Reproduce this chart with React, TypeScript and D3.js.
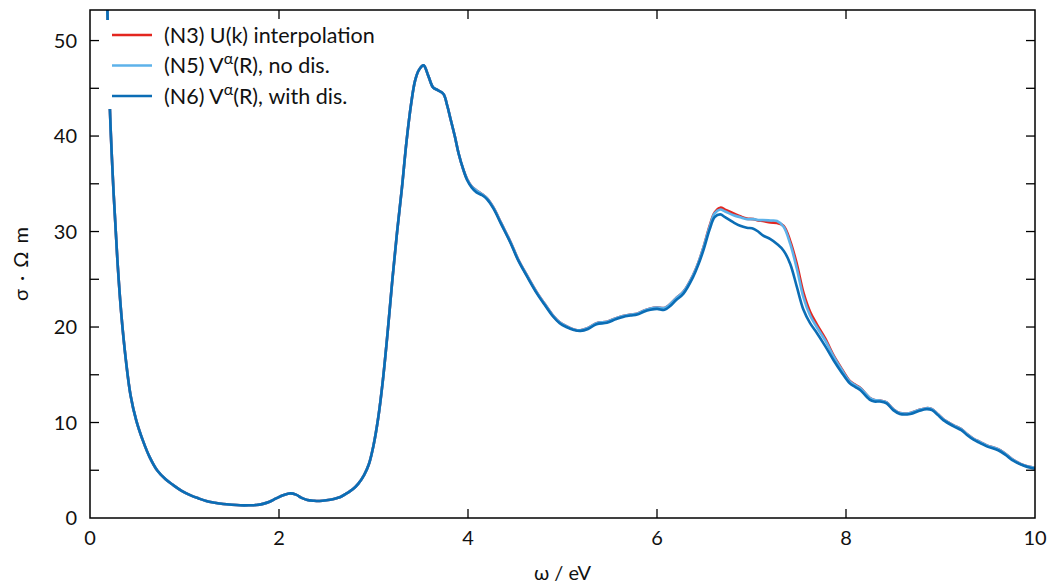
import React, { useRef, useEffect } from "react";
import * as d3 from "d3";

const omega = [
  0.17, 0.21, 0.25, 0.29, 0.33, 0.38, 0.43, 0.49, 0.56, 0.63, 0.71, 0.8, 0.88, 0.97, 1.06, 1.15, 1.23, 1.32, 1.41, 1.5,
  1.59, 1.68, 1.76, 1.83, 1.9, 1.97, 2.05, 2.12, 2.18, 2.24, 2.3, 2.37, 2.43, 2.5, 2.58, 2.65, 2.72, 2.78, 2.84, 2.9,
  2.95, 3.0, 3.05, 3.1, 3.15, 3.2, 3.25, 3.3, 3.35, 3.4, 3.44, 3.48, 3.53, 3.58, 3.63, 3.68, 3.74, 3.78, 3.81, 3.86,
  3.9, 3.95, 3.99, 4.04, 4.09, 4.15, 4.2, 4.27, 4.35, 4.45, 4.53, 4.63, 4.73, 4.82, 4.9, 4.97, 5.04, 5.12, 5.19, 5.27,
  5.36, 5.47, 5.56, 5.64, 5.72, 5.79, 5.86, 5.93, 6.0, 6.08, 6.14, 6.2, 6.28, 6.38, 6.44, 6.49, 6.56, 6.61, 6.67, 6.72,
  6.81, 6.88, 6.95, 7.02, 7.07, 7.12, 7.2, 7.27, 7.34, 7.41, 7.48, 7.55, 7.62, 7.69, 7.78, 7.87, 7.95, 8.04, 8.1, 8.15,
  8.25, 8.3, 8.36, 8.43, 8.5, 8.57, 8.68, 8.77, 8.85, 8.91, 8.97, 9.03, 9.14, 9.22, 9.28, 9.35, 9.42, 9.49, 9.61, 9.69,
  9.77, 9.89, 9.98, 10.0,
];

// (N6) V^α(R), with dis.
const n6 = [
  60, 43, 34, 27, 21.5, 16.5, 12.8, 10.2, 8.1, 6.4, 5.0, 4.05, 3.45, 2.85, 2.4, 2.05, 1.78, 1.6, 1.46, 1.38,
  1.33, 1.33, 1.36, 1.48, 1.7, 2.05, 2.4, 2.58, 2.45, 2.1, 1.88, 1.8, 1.78, 1.85, 2.0, 2.2, 2.6, 3.0, 3.6, 4.5,
  5.6, 7.6, 10.5, 14.5, 19.5, 25, 30, 34.5, 39.5, 43.5, 45.8, 46.9, 47.4, 46.3, 45.1, 44.8, 44.4, 43.2, 42.0, 40.0,
  38.2, 36.5, 35.4, 34.6, 34.1, 33.8, 33.4, 32.4, 30.8, 28.8, 27.0, 25.2, 23.5, 22.2, 21.1, 20.4, 20.0, 19.7, 19.6, 19.8,
  20.3, 20.45, 20.8, 21.06, 21.2, 21.3, 21.6, 21.8, 21.9, 21.8, 22.2, 22.8, 23.5, 25.2, 26.6, 28.0, 30.3, 31.5, 31.8, 31.5,
  30.95, 30.6, 30.4, 30.3, 30.0, 29.6, 29.2, 28.7, 28.0, 26.6, 24.2, 21.8, 20.4, 19.4, 18.0, 16.5, 15.3, 14.1, 13.7, 13.4,
  12.4, 12.2, 12.2, 12.0, 11.3, 10.9, 10.9, 11.2, 11.4, 11.3, 10.8, 10.25, 9.6, 9.2, 8.7, 8.2, 7.85, 7.5, 7.1, 6.6,
  6.0, 5.44, 5.2, 5.15,
];

// (N5) V^α(R), no dis.
const n5 = [
  60, 43, 34, 27, 21.5, 16.5, 12.8, 10.2, 8.1, 6.4, 5.0, 4.05, 3.45, 2.85, 2.4, 2.05, 1.78, 1.6, 1.46, 1.38,
  1.33, 1.33, 1.36, 1.48, 1.7, 2.05, 2.4, 2.58, 2.45, 2.1, 1.88, 1.8, 1.78, 1.85, 2.0, 2.2, 2.6, 3.0, 3.6, 4.5,
  5.6, 7.6, 10.5, 14.5, 19.5, 25, 30, 34.5, 39.5, 43.5, 45.8, 46.9, 47.4, 46.3, 45.1, 44.8, 44.4, 43.2, 42.0, 40.0,
  38.2, 36.5, 35.5, 34.7, 34.3, 33.9, 33.5, 32.5, 30.9, 28.9, 27.1, 25.3, 23.6, 22.3, 21.2, 20.5, 20.1, 19.75, 19.65, 19.9,
  20.4, 20.55, 20.9, 21.15, 21.3, 21.4, 21.7, 21.95, 22.05, 22.0, 22.4, 23.0, 23.7, 25.4, 26.8, 28.3, 30.6, 31.9, 32.3, 32.1,
  31.7, 31.5, 31.3, 31.3, 31.2, 31.2, 31.15, 31.1, 30.5, 28.7, 26.1, 23.1, 21.2, 20.0, 18.6, 16.9, 15.6, 14.3, 13.9, 13.6,
  12.6, 12.35, 12.3, 12.1, 11.4, 11.0, 11.0, 11.3, 11.5, 11.4, 10.9, 10.35, 9.7, 9.3, 8.8, 8.3, 7.95, 7.6, 7.2, 6.7,
  6.1, 5.5, 5.3, 5.25,
];

// (N3) U(k) interpolation
const n3 = [
  60, 43, 34, 27, 21.5, 16.5, 12.8, 10.2, 8.1, 6.4, 5.0, 4.05, 3.45, 2.85, 2.4, 2.05, 1.78, 1.6, 1.46, 1.38,
  1.33, 1.33, 1.36, 1.48, 1.7, 2.05, 2.4, 2.58, 2.45, 2.1, 1.88, 1.8, 1.78, 1.85, 2.0, 2.2, 2.6, 3.0, 3.6, 4.5,
  5.6, 7.6, 10.5, 14.5, 19.5, 25, 30, 34.5, 39.5, 43.5, 45.8, 46.9, 47.4, 46.3, 45.1, 44.8, 44.4, 43.2, 42.0, 40.0,
  38.2, 36.5, 35.5, 34.7, 34.3, 33.9, 33.5, 32.5, 30.9, 28.9, 27.1, 25.3, 23.6, 22.3, 21.2, 20.5, 20.1, 19.75, 19.65, 19.9,
  20.4, 20.55, 20.9, 21.15, 21.3, 21.4, 21.7, 21.95, 22.05, 22.0, 22.4, 23.0, 23.7, 25.4, 26.8, 28.3, 30.7, 32.0, 32.5, 32.3,
  31.9, 31.6, 31.35, 31.3, 31.15, 31.1, 30.95, 30.9, 30.6, 29.0, 26.6, 23.6, 21.6, 20.3, 18.8, 17.0, 15.7, 14.35, 13.95, 13.65,
  12.6, 12.35, 12.3, 12.1, 11.4, 11.0, 11.0, 11.3, 11.5, 11.4, 10.9, 10.35, 9.7, 9.3, 8.8, 8.3, 7.95, 7.6, 7.2, 6.7,
  6.1, 5.5, 5.3, 5.25,
];

const xTicks = [0, 2, 4, 6, 8, 10];
const yTicks = [0, 10, 20, 30, 40, 50];
const yMinor = [5, 15, 25, 35, 45];

const series = [
  { name: "(N3) U(k) interpolation", sup: "", rest: "", values: n3, color: "#e3261f" },
  { name: "(N5) V", sup: "α", rest: "(R), no dis.", values: n5, color: "#5db2ea" },
  { name: "(N6) V", sup: "α", rest: "(R), with dis.", values: n6, color: "#0b6db5" },
];

export default function App() {
  const svgRef = useRef<SVGSVGElement>(null);

  useEffect(() => {
    const svg = d3.select(svgRef.current);
    svg.selectAll("*").remove();
    const width = 1055,
      height = 586;
    const left = 90,
      right = 1035,
      top = 10,
      bottom = 518;
    const font = "Lato, 'Open Sans', sans-serif";

    const x = d3.scaleLinear().domain([0, 10]).range([left, right]);
    const y = d3.scaleLinear().domain([0, 53.2]).range([bottom, top]);

    svg.append("rect").attr("width", width).attr("height", height).attr("fill", "#fff");

    svg
      .append("clipPath")
      .attr("id", "plot-clip")
      .append("rect")
      .attr("x", left)
      .attr("y", top)
      .attr("width", right - left)
      .attr("height", bottom - top);

    const line = d3
      .line<number>()
      .x((_, i) => x(omega[i]))
      .y((d) => y(d))
      .curve(d3.curveCatmullRom.alpha(0.5));

    const g = svg.append("g").attr("clip-path", "url(#plot-clip)");
    series.forEach((s) => {
      g.append("path")
        .datum(s.values)
        .attr("fill", "none")
        .attr("stroke", s.color)
        .attr("stroke-width", 2.6)
        .attr("stroke-linejoin", "round")
        .attr("d", line);
    });

    // ticks (inward, on all sides)
    const tl = 9;
    const ax = svg.append("g").attr("stroke", "#000").attr("stroke-width", 1.3);
    xTicks.slice(1, -1).forEach((t) => {
      ax.append("line").attr("x1", x(t)).attr("x2", x(t)).attr("y1", bottom).attr("y2", bottom - tl);
      ax.append("line").attr("x1", x(t)).attr("x2", x(t)).attr("y1", top).attr("y2", top + tl);
    });
    [...yTicks.slice(1), ...yMinor].forEach((t) => {
      ax.append("line").attr("x1", left).attr("x2", left + tl).attr("y1", y(t)).attr("y2", y(t));
      ax.append("line").attr("x1", right).attr("x2", right - tl).attr("y1", y(t)).attr("y2", y(t));
    });

    svg
      .append("rect")
      .attr("x", left)
      .attr("y", top)
      .attr("width", right - left)
      .attr("height", bottom - top)
      .attr("fill", "none")
      .attr("stroke", "#000")
      .attr("stroke-width", 1.5);

    const labels = svg.append("g").attr("font-family", font).attr("font-size", 20).attr("fill", "#111");
    xTicks.forEach((t) => {
      labels.append("text").attr("x", x(t)).attr("y", bottom + 27).attr("text-anchor", "middle").text(t);
    });
    yTicks.forEach((t) => {
      labels
        .append("text")
        .attr("x", left - 13)
        .attr("y", y(t) + 7)
        .attr("text-anchor", "end")
        .text(t);
    });

    labels
      .append("text")
      .attr("x", (left + right) / 2)
      .attr("y", 580)
      .attr("text-anchor", "middle")
      .text("ω / eV");
    labels
      .append("text")
      .attr("transform", `translate(28,${(top + bottom) / 2}) rotate(-90)`)
      .attr("text-anchor", "middle")
      .attr("word-spacing", 3)
      .text("σ · Ω m");

    // legend
    const lg = svg.append("g").attr("font-family", font).attr("font-size", 21.5).attr("fill", "#111");
    lg.append("rect").attr("x", 100).attr("y", 20).attr("width", 290).attr("height", 89).attr("fill", "#fff");
    series.forEach((s, i) => {
      const yy = 35 + i * 30.5;
      lg.append("line")
        .attr("x1", 112)
        .attr("x2", 152)
        .attr("y1", yy)
        .attr("y2", yy)
        .attr("stroke", s.color)
        .attr("stroke-width", 2.6);
      const t = lg.append("text").attr("x", 164).attr("y", yy + 7.5);
      t.append("tspan").text(s.name);
      if (s.sup) {
        t.append("tspan").attr("dy", -9).attr("font-size", 16).text(s.sup);
        t.append("tspan").attr("dy", 9).text(s.rest);
      }
    });
  }, []);

  return (
    <svg
      ref={svgRef}
      width={1055}
      height={586}
      style={{ position: "absolute", left: 0, top: 0, display: "block" }}
    ></svg>
  );
}
